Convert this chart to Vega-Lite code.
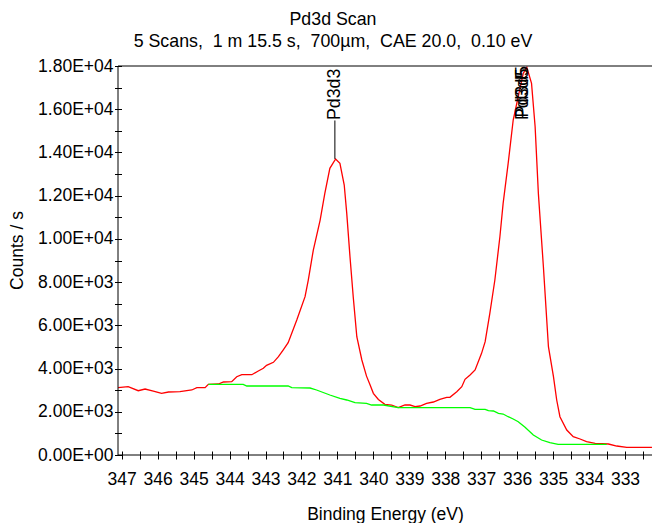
{
  "$schema": "https://vega.github.io/schema/vega-lite/v6.json",
  "width": 534,
  "height": 389,
  "autosize": {"type": "none"},
  "padding": {"left": 118, "top": 66, "right": 0, "bottom": 68},
  "background": "white",
  "config": {"view": {"stroke": null}, "font": "Liberation Sans"},
  "title": {
    "text": "Pd3d Scan",
    "subtitle": "5 Scans,\u00a0 1 m 15.5 s,\u00a0 700µm,\u00a0 CAE 20.0,\u00a0 0.10 eV",
    "font": "Liberation Sans",
    "subtitleFont": "Liberation Sans",
    "fontSize": 17.8,
    "subtitleFontSize": 17.8,
    "fontWeight": "normal",
    "color": "black",
    "subtitleColor": "black",
    "anchor": "middle",
    "frame": "group",
    "dx": -52,
    "offset": 6,
    "subtitlePadding": 4
  },
  "datasets": {
    "spectrum": [
      {"be": 347.10, "cps": 3114}, {"be": 346.82, "cps": 3160}, {"be": 346.54, "cps": 2975},
      {"be": 346.35, "cps": 3054}, {"be": 346.12, "cps": 2961}, {"be": 345.89, "cps": 2855},
      {"be": 345.70, "cps": 2915}, {"be": 345.38, "cps": 2929}, {"be": 345.05, "cps": 3008},
      {"be": 344.91, "cps": 3114}, {"be": 344.68, "cps": 3114}, {"be": 344.59, "cps": 3271},
      {"be": 344.31, "cps": 3285}, {"be": 344.17, "cps": 3378}, {"be": 343.94, "cps": 3392},
      {"be": 343.80, "cps": 3623}, {"be": 343.66, "cps": 3716}, {"be": 343.38, "cps": 3716},
      {"be": 343.20, "cps": 3887}, {"be": 343.06, "cps": 4011}, {"be": 342.97, "cps": 4150},
      {"be": 342.78, "cps": 4289}, {"be": 342.64, "cps": 4548}, {"be": 342.51, "cps": 4858},
      {"be": 342.37, "cps": 5200}, {"be": 342.13, "cps": 6246}, {"be": 341.90, "cps": 7325},
      {"be": 341.81, "cps": 8097}, {"be": 341.67, "cps": 9485}, {"be": 341.48, "cps": 10873},
      {"be": 341.35, "cps": 12107}, {"be": 341.21, "cps": 13264}, {"be": 341.05, "cps": 13700},
      {"be": 340.93, "cps": 13497}, {"be": 340.81, "cps": 12493}, {"be": 340.74, "cps": 11183},
      {"be": 340.65, "cps": 9176}, {"be": 340.56, "cps": 7325}, {"be": 340.46, "cps": 5474},
      {"be": 340.32, "cps": 4396}, {"be": 340.19, "cps": 3650}, {"be": 340.09, "cps": 3239},
      {"be": 340.00, "cps": 2855}, {"be": 339.86, "cps": 2570}, {"be": 339.68, "cps": 2346},
      {"be": 339.49, "cps": 2313}, {"be": 339.31, "cps": 2190}, {"be": 339.12, "cps": 2313},
      {"be": 338.98, "cps": 2313}, {"be": 338.84, "cps": 2236}, {"be": 338.70, "cps": 2267},
      {"be": 338.52, "cps": 2390}, {"be": 338.33, "cps": 2452}, {"be": 338.15, "cps": 2577},
      {"be": 337.96, "cps": 2670}, {"be": 337.87, "cps": 2670}, {"be": 337.68, "cps": 2929},
      {"be": 337.54, "cps": 3160}, {"be": 337.45, "cps": 3503}, {"be": 337.31, "cps": 3702},
      {"be": 337.17, "cps": 3933}, {"be": 336.99, "cps": 4705}, {"be": 336.89, "cps": 5242},
      {"be": 336.76, "cps": 6556}, {"be": 336.62, "cps": 8097}, {"be": 336.48, "cps": 10101},
      {"be": 336.39, "cps": 11646}, {"be": 336.25, "cps": 13497}, {"be": 336.11, "cps": 15500},
      {"be": 335.97, "cps": 16579}, {"be": 335.83, "cps": 17660}, {"be": 335.73, "cps": 17938},
      {"be": 335.60, "cps": 17198}, {"be": 335.50, "cps": 15191}, {"be": 335.41, "cps": 12107},
      {"be": 335.27, "cps": 8713}, {"be": 335.13, "cps": 5011}, {"be": 334.99, "cps": 3623},
      {"be": 334.90, "cps": 2545}, {"be": 334.81, "cps": 1772}, {"be": 334.62, "cps": 1157},
      {"be": 334.44, "cps": 847}, {"be": 334.25, "cps": 740}, {"be": 334.07, "cps": 616},
      {"be": 333.83, "cps": 541}, {"be": 333.46, "cps": 509}, {"be": 333.23, "cps": 416},
      {"be": 332.95, "cps": 356}, {"be": 332.25, "cps": 356}
    ],
    "backgroundLine": [
      {"be": 344.59, "cps": 3271}, {"be": 343.62, "cps": 3271}, {"be": 343.52, "cps": 3193},
      {"be": 342.37, "cps": 3193}, {"be": 342.27, "cps": 3114}, {"be": 341.76, "cps": 3100},
      {"be": 341.58, "cps": 3008}, {"be": 341.21, "cps": 2776}, {"be": 340.93, "cps": 2622},
      {"be": 340.74, "cps": 2545}, {"be": 340.51, "cps": 2421}, {"be": 340.19, "cps": 2390},
      {"be": 340.05, "cps": 2313}, {"be": 339.72, "cps": 2313}, {"be": 339.31, "cps": 2190},
      {"be": 337.31, "cps": 2190}, {"be": 337.17, "cps": 2114}, {"be": 336.89, "cps": 2114},
      {"be": 336.80, "cps": 2050}, {"be": 336.66, "cps": 2036}, {"be": 336.52, "cps": 1928},
      {"be": 336.39, "cps": 1897}, {"be": 336.25, "cps": 1772}, {"be": 336.11, "cps": 1666},
      {"be": 335.97, "cps": 1541}, {"be": 335.78, "cps": 1282}, {"be": 335.55, "cps": 925},
      {"be": 335.32, "cps": 694}, {"be": 335.09, "cps": 569}, {"be": 334.86, "cps": 495},
      {"be": 333.51, "cps": 495}
    ],
    "peaks": [
      {"label": "Pd3d3", "be": 341.07, "ly": 15500},
      {"label": "Pd3d5", "be": 335.85, "ly": 15500},
      {"label": "Pd3d5", "be": 335.85, "ly": 15620}
    ],
    "connectors": [
      {"be": 341.07, "top": 15480, "bottom": 13700}
    ]
  },
  "layer": [
    {
      "data": {"name": "spectrum"},
      "mark": {"type": "line", "color": "#ff0000", "strokeWidth": 1.3},
      "encoding": {
        "x": {
          "field": "be", "type": "quantitative",
          "scale": {"domain": [332.249, 347.103], "reverse": true, "nice": false, "zero": false},
          "axis": {
            "title": "Binding Energy (eV)",
            "values": [332.5, 333, 333.5, 334, 334.5, 335, 335.5, 336, 336.5, 337, 337.5, 338, 338.5, 339, 339.5, 340, 340.5, 341, 341.5, 342, 342.5, 343, 343.5, 344, 344.5, 345, 345.5, 346, 346.5, 347],
            "tickCount": 100,
            "labelExpr": "datum.value % 1 === 0 ? format(datum.value, 'd') : ''",
            "offset": -4, "tickSize": 8, "domain": false, "grid": false,
            "tickColor": "black", "tickWidth": 1,
            "labelColor": "black", "labelFont": "Liberation Sans", "labelFontSize": 17.5,
            "labelPadding": 11, "labelOverlap": false, "labelFlush": false,
            "titleFont": "Liberation Sans", "titleFontSize": 17.5, "titleFontWeight": "normal",
            "titleColor": "black", "titleY": 63, "titleBaseline": "middle"
          }
        },
        "y": {
          "field": "cps", "type": "quantitative",
          "scale": {"domain": [0, 18000], "nice": false, "zero": true},
          "axis": {
            "title": "Counts / s",
            "values": [0, 1000, 2000, 3000, 4000, 5000, 6000, 7000, 8000, 9000, 10000, 11000, 12000, 13000, 14000, 15000, 16000, 17000, 18000],
            "tickCount": 100,
            "labelExpr": "datum.value % 2000 !== 0 ? '' : datum.value === 0 ? '0.00E+00' : datum.value < 10000 ? format(datum.value / 1000, '.2f') + 'E+03' : format(datum.value / 10000, '.2f') + 'E+04'",
            "offset": -3.5, "tickSize": 7, "domain": false, "grid": false,
            "tickColor": "black", "tickWidth": 1,
            "labelColor": "black", "labelFont": "Liberation Sans", "labelFontSize": 17.5,
            "labelPadding": 1.5, "labelOverlap": false, "labelFlush": false,
            "titleFont": "Liberation Sans", "titleFontSize": 17.5, "titleFontWeight": "normal",
            "titleColor": "black", "titleX": -104, "titleY": 184, "titleBaseline": "middle", "titleAngle": 270
          }
        }
      }
    },
    {
      "data": {"name": "backgroundLine"},
      "mark": {"type": "line", "color": "#00ff00", "strokeWidth": 1.3},
      "encoding": {
        "x": {"field": "be", "type": "quantitative"},
        "y": {"field": "cps", "type": "quantitative"}
      }
    },
    {
      "data": {"values": [{}]},
      "mark": {"type": "rule", "color": "black", "strokeWidth": 1},
      "encoding": {"y": {"datum": 0, "type": "quantitative"}}
    },
    {
      "data": {"values": [{}]},
      "mark": {"type": "rule", "color": "black", "strokeWidth": 1},
      "encoding": {"y": {"datum": 18000, "type": "quantitative"}}
    },
    {
      "data": {"values": [{}]},
      "mark": {"type": "rule", "color": "black", "strokeWidth": 1},
      "encoding": {"x": {"datum": 347.103, "type": "quantitative"}}
    },
    {
      "data": {"name": "connectors"},
      "mark": {"type": "rule", "color": "black", "strokeWidth": 1},
      "encoding": {
        "x": {"field": "be", "type": "quantitative"},
        "y": {"field": "bottom", "type": "quantitative"},
        "y2": {"field": "top"}
      }
    },
    {
      "data": {"name": "peaks"},
      "mark": {"type": "text", "angle": 270, "align": "left", "baseline": "middle", "font": "Liberation Sans", "fontSize": 17.8, "color": "black"},
      "encoding": {
        "x": {"field": "be", "type": "quantitative"},
        "y": {"field": "ly", "type": "quantitative"},
        "text": {"field": "label"}
      }
    }
  ]
}
